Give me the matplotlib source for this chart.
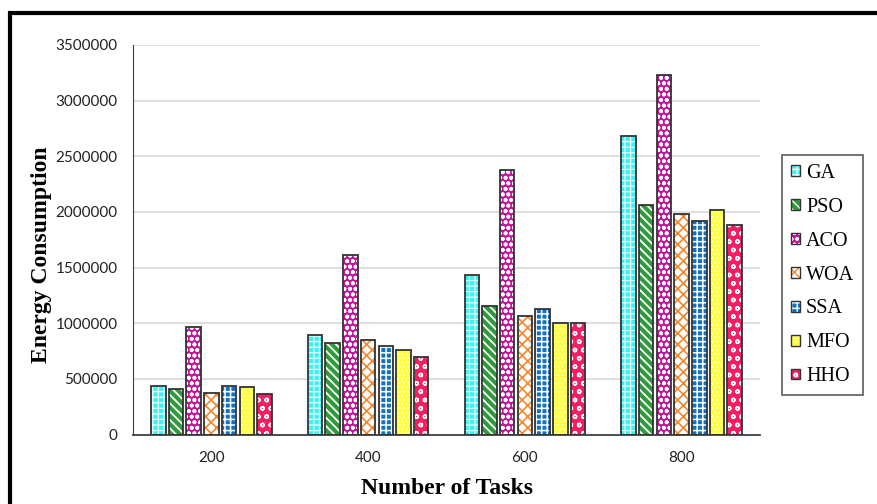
import matplotlib
matplotlib.use("Agg")
import matplotlib.pyplot as plt
import numpy as np
from matplotlib.patches import Patch, Rectangle
from matplotlib.legend_handler import HandlerTuple

categories = ["200", "400", "600", "800"]
algorithms = ["GA", "PSO", "ACO", "WOA", "SSA", "MFO", "HHO"]
GA = [438000, 897000, 1433000, 2686000]
PSO = [411000, 821000, 1155000, 2059000]
ACO = [962000, 1613000, 2380000, 3226000]
WOA = [375000, 849000, 1065000, 1982000]
SSA = [438000, 795000, 1124000, 1919000]
MFO = [423000, 759000, 998000, 2018000]
HHO = [360000, 696000, 998000, 1883000]
series = [GA, PSO, ACO, WOA, SSA, MFO, HHO]

# (facecolor, hatch colour, hatch, hatch linewidth)
styles = [
    ("#3FF2F2", "white", "+++", 0.8),
    ("#2E9A3A", "white", "\\\\\\\\", 1.3),
    ("#C8129E", "white", "ooo", 1.2),
    ("white", "#F7862A", "xxx", 1.2),
    ("#1273C6", "white", "+++", 1.1),
    ("#FFFF40", "#FFFFB0", "....", 1.0),
    ("#F51E62", "white", "oo", 1.0),
]

fig = plt.figure(figsize=(8.77, 5.04), dpi=100)
ax = fig.add_axes([133/877, 1-434.5/504, (760-133)/877, (434.5-45)/504])

x = np.arange(len(categories))
slot = 0.79 / len(series)
bw = slot * 0.82
handles = []
for i, (vals, (fc, hc, h, hlw)) in enumerate(zip(series, styles)):
    plt.rcParams["hatch.linewidth"] = hlw
    pos = x + (i - (len(series)-1)/2) * slot
    ax.bar(pos, vals, bw, facecolor=fc, edgecolor=hc, hatch=h, linewidth=0, zorder=2)
    ax.bar(pos, vals, bw, fill=False, edgecolor="#333333", linewidth=1.3, zorder=3)
    p1 = Patch(facecolor=fc, edgecolor=hc, hatch=h, linewidth=0)
    p2 = Patch(fill=False, edgecolor="#333333", linewidth=1.0)
    handles.append((p1, p2))

ax.set_xlim(-0.5, len(categories)-0.5)
ax.set_ylim(0, 3500000)
ax.set_yticks(np.arange(0, 3500001, 500000))
ax.set_yticklabels([f"{v}" for v in range(0, 3500001, 500000)])
ax.set_xticks(x)
ax.set_xticklabels(categories)
ax.yaxis.grid(True, color="#D9D9D9", linewidth=1.2, zorder=0)
ax.set_axisbelow(True)
for s in ["top", "right"]:
    ax.spines[s].set_visible(False)
ax.spines["left"].set_color("#404040")
ax.spines["bottom"].set_color("#404040")
ax.spines["bottom"].set_linewidth(1.3)
ax.tick_params(axis="both", length=0, labelsize=11, colors="#222222")
ax.tick_params(axis="y", pad=11)
ax.tick_params(axis="x", pad=12)
for lab in ax.get_xticklabels() + ax.get_yticklabels():
    lab.set_family("Lato")

fig.text(0.047, 1-255/504, "Energy Consumption", rotation=90, ha="center", va="center",
         family="Liberation Serif", fontweight="bold", fontsize=17)
fig.text(447/877, 1-488/504, "Number of Tasks", ha="center", va="center",
         family="Liberation Serif", fontweight="bold", fontsize=17)

leg = fig.legend(handles, algorithms, handler_map={tuple: HandlerTuple(ndivide=1)},
                 loc="center", bbox_to_anchor=(822.5/877, 1-275/504),
                 prop={"family": "Liberation Serif", "size": 14.5},
                 handlelength=0.45, handleheight=0.45, handletextpad=0.3,
                 labelspacing=0.74, borderpad=0.45, frameon=True, fancybox=False,
                 borderaxespad=0)
leg.get_frame().set_edgecolor("#333333")
leg.get_frame().set_linewidth(1.2)

fig.patches.append(Rectangle((9.5/877, -0.1), 1.2, 1-12.5/504+0.1, transform=fig.transFigure,
                             fill=False, edgecolor="black", linewidth=3, clip_on=False))

fig.savefig("out.png", dpi=100)
